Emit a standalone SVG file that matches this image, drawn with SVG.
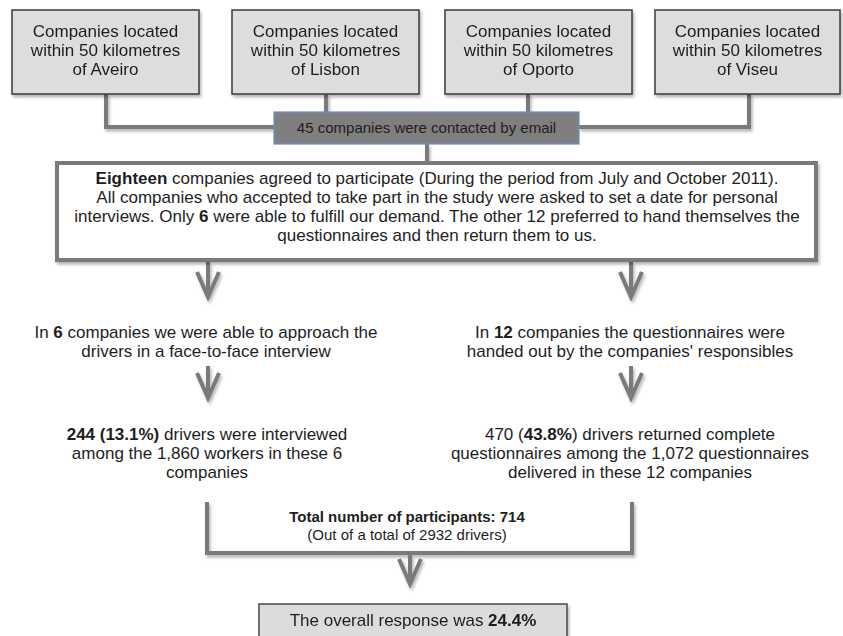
<svg xmlns="http://www.w3.org/2000/svg" width="843" height="636" viewBox="0 0 843 636">
  <defs>
    <style>
      text { font-family: "Liberation Sans", Arial, sans-serif; fill: #1e1e1e; text-anchor: middle; }
      .t17 { font-size: 17px; }
      .t15 { font-size: 15px; }
      .b { font-weight: bold; }
      .src { fill: #dddddd; stroke: #3a3a3a; stroke-width: 1.5; }
      .email { fill: #7f7f7f; stroke: #6b8fc4; stroke-width: 1.2; }
      .main { fill: #ffffff; stroke: #7a7a7a; stroke-width: 4; }
      .result { fill: #dcdcdc; stroke: #4a4a4a; stroke-width: 1.5; }
      .conn { fill: none; stroke: #7a7a7a; stroke-width: 4; }
      .arr { fill: none; stroke: #7a7a7a; stroke-width: 4; marker-end: url(#chev); }
    </style>
    <filter id="sh" x="-10%" y="-10%" width="130%" height="140%">
      <feDropShadow dx="1.5" dy="2.5" stdDeviation="1.5" flood-color="#000" flood-opacity="0.3"/>
    </filter>
    <marker id="chev" markerUnits="userSpaceOnUse" viewBox="-30 -15 34 30" refX="0" refY="0" markerWidth="34" markerHeight="30" orient="auto">
      <path d="M-25,-11 L0,0 L-25,11" fill="none" stroke="#7a7a7a" stroke-width="4"/>
    </marker>
  </defs>

  <g id="connectors" filter="url(#sh)">
    <path class="conn" d="M106 94 V127 H274"/>
    <path class="conn" d="M326 94 V112"/>
    <path class="conn" d="M528 94 V112"/>
    <path class="conn" d="M749 94 V127 H579"/>
    <path class="conn" d="M427 144 V163"/>
    <path class="arr" d="M208 262 V297"/>
    <path class="arr" d="M631 262 V297"/>
    <path class="arr" d="M208 366 V398"/>
    <path class="arr" d="M631 366 V398"/>
    <path class="conn" d="M207 502 V553 H632 V502"/>
    <path class="arr" d="M410 555 V584"/>
  </g>

  <g id="node-aveiro" filter="url(#sh)">
    <rect class="src" x="12" y="10" width="187" height="84"/>
    <text class="t17" x="105.5" y="37">Companies located</text>
    <text class="t17" x="105.5" y="56">within 50 kilometres</text>
    <text class="t17" x="105.5" y="75">of Aveiro</text>
  </g>
  <g id="node-lisbon" filter="url(#sh)">
    <rect class="src" x="232" y="10" width="187" height="84"/>
    <text class="t17" x="325.5" y="37">Companies located</text>
    <text class="t17" x="325.5" y="56">within 50 kilometres</text>
    <text class="t17" x="325.5" y="75">of Lisbon</text>
  </g>
  <g id="node-oporto" filter="url(#sh)">
    <rect class="src" x="445" y="10" width="187" height="84"/>
    <text class="t17" x="538.5" y="37">Companies located</text>
    <text class="t17" x="538.5" y="56">within 50 kilometres</text>
    <text class="t17" x="538.5" y="75">of Oporto</text>
  </g>
  <g id="node-viseu" filter="url(#sh)">
    <rect class="src" x="655" y="10" width="185" height="84"/>
    <text class="t17" x="747.5" y="37">Companies located</text>
    <text class="t17" x="747.5" y="56">within 50 kilometres</text>
    <text class="t17" x="747.5" y="75">of Viseu</text>
  </g>

  <g id="node-email">
    <rect class="email" x="274" y="112" width="305" height="32"/>
    <text class="t15" x="426.5" y="133">45 companies were contacted by email</text>
  </g>

  <g id="node-agreed">
    <rect class="main" x="57" y="163" width="759" height="97" filter="url(#sh)"/>
    <text class="t17" x="437" y="184"><tspan class="b">Eighteen</tspan> companies agreed to participate (During the period from July and October 2011).</text>
    <text class="t17" x="437" y="203">All companies who accepted to take part in the study were asked to set a date for personal</text>
    <text class="t17" x="437" y="222">interviews. Only <tspan class="b">6</tspan> were able to fulfill our demand. The other 12 preferred to hand themselves the</text>
    <text class="t17" x="437" y="241">questionnaires and then return them to us.</text>
  </g>

  <g id="node-face">
    <text class="t17" x="206" y="338">In <tspan class="b">6</tspan> companies we were able to approach the</text>
    <text class="t17" x="206" y="357">drivers in a face-to-face interview</text>
  </g>
  <g id="node-handed">
    <text class="t17" x="630" y="338">In <tspan class="b">12</tspan> companies the questionnaires were</text>
    <text class="t17" x="630" y="357">handed out by the companies' responsibles</text>
  </g>

  <g id="node-interviewed">
    <text class="t17" x="207" y="440"><tspan class="b">244 (13.1%)</tspan> drivers were interviewed</text>
    <text class="t17" x="207" y="459">among the 1,860 workers in these 6</text>
    <text class="t17" x="207" y="478">companies</text>
  </g>
  <g id="node-returned">
    <text class="t17" x="630" y="440">470 (<tspan class="b">43.8%</tspan>) drivers returned complete</text>
    <text class="t17" x="630" y="459">questionnaires among the 1,072 questionnaires</text>
    <text class="t17" x="630" y="478">delivered in these 12 companies</text>
  </g>

  <g id="node-total">
    <text class="t15 b" x="407" y="522">Total number of participants: 714</text>
    <text class="t15" x="407" y="540">(Out of a total of 2932 drivers)</text>
  </g>

  <g id="node-overall" filter="url(#sh)">
    <rect class="result" x="259" y="604" width="308" height="44"/>
    <text class="t17" x="413" y="626">The overall response was <tspan class="b">24.4%</tspan></text>
  </g>
</svg>
